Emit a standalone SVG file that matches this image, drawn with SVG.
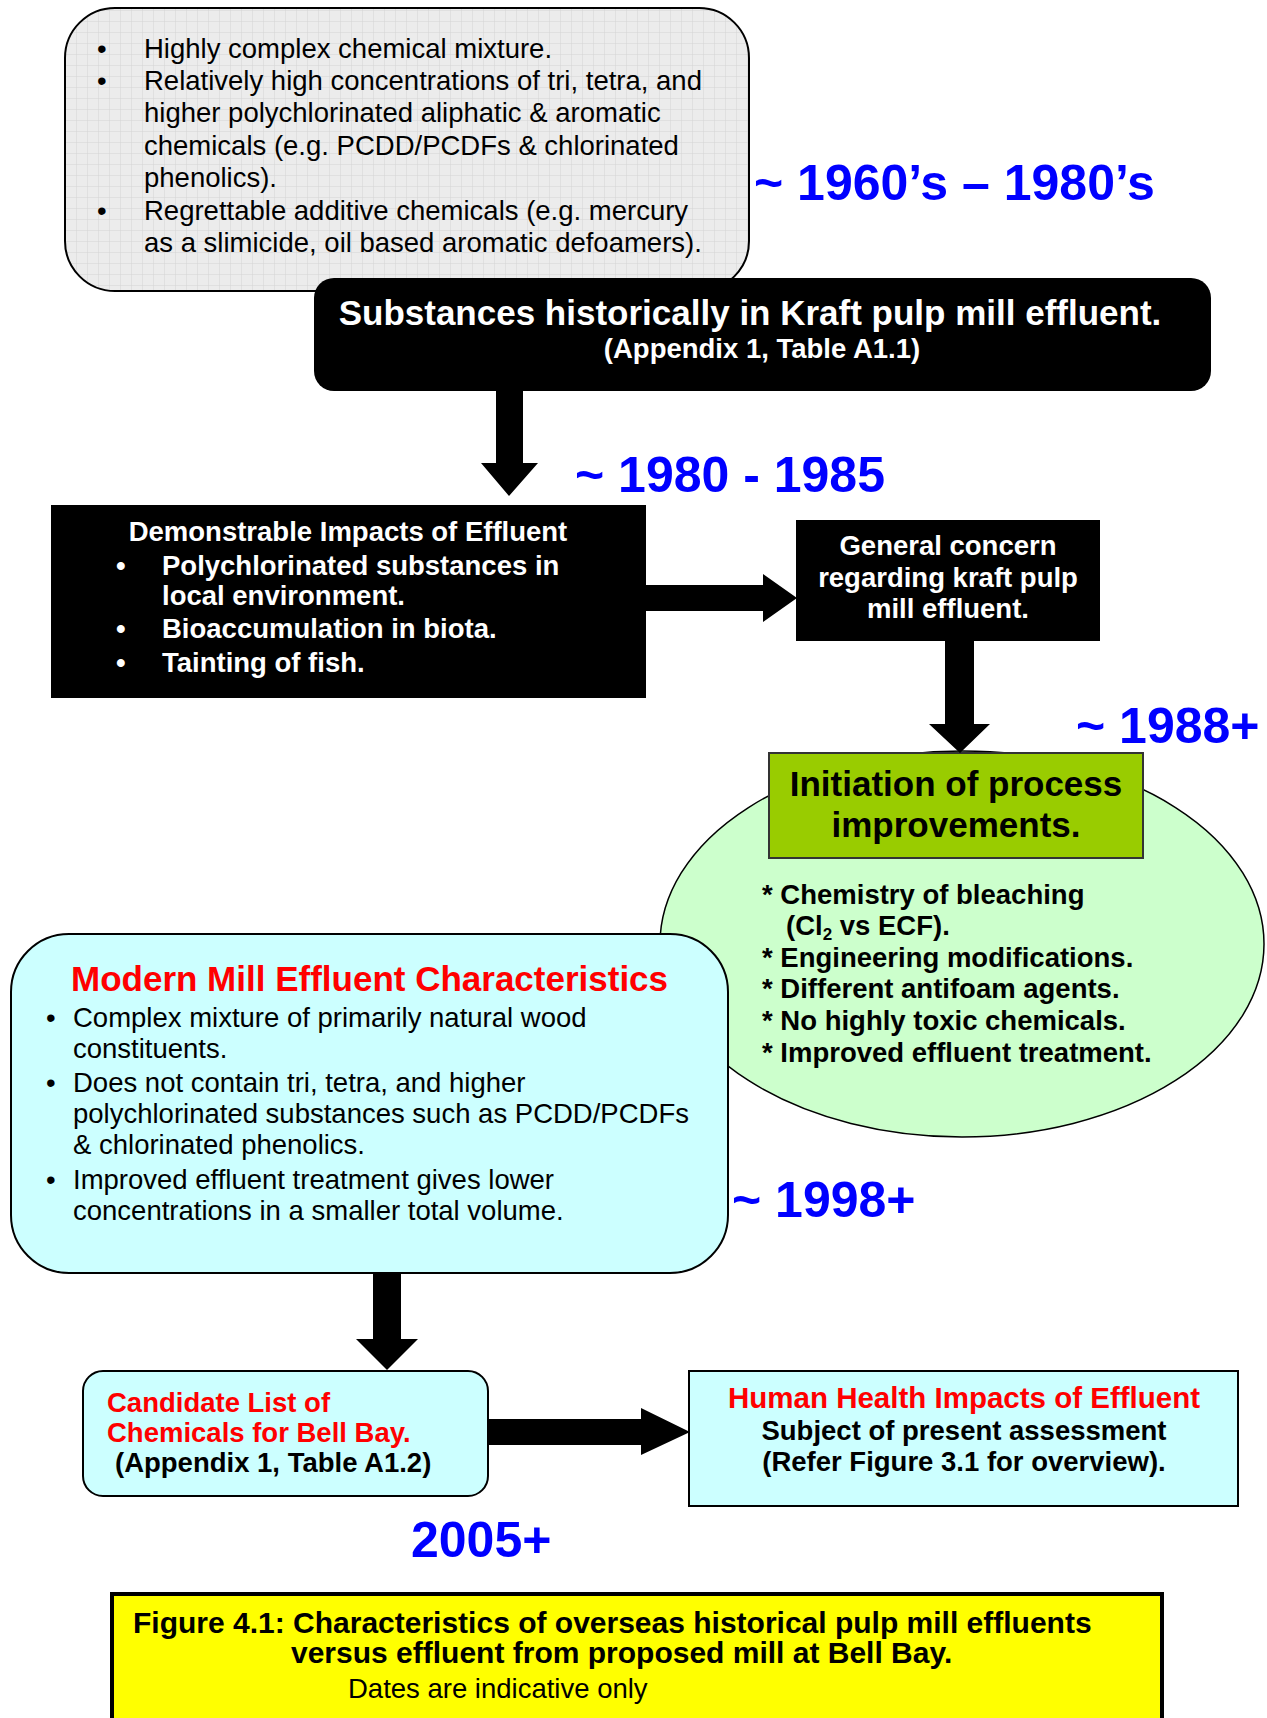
<svg xmlns="http://www.w3.org/2000/svg" width="1267" height="1718" viewBox="0 0 1267 1718">
<defs>
<pattern id="grid" width="11" height="11" patternUnits="userSpaceOnUse">
<rect width="11" height="11" fill="#ececec"/>
<path d="M11 0V11M0 11H11" stroke="#d4d4d4" stroke-width="1" fill="none"/>
</pattern>
<style>
text{font-family:"Liberation Sans",Arial,sans-serif}
.reg{font-size:27.5px;fill:#000}
.b{font-weight:bold}
.w{fill:#fff}
.blue{fill:#0000ff;font-weight:bold;font-size:50px}
.red{fill:#ff0000;font-weight:bold}
.arrow{fill:#000}
</style>
</defs>
<rect width="1267" height="1718" fill="#fff"/>

<g id="node-history">
<rect x="65" y="8" width="684" height="283" rx="50" fill="url(#grid)" stroke="#000" stroke-width="2"/>
<g class="reg">
<text x="97" y="58">•</text>
<text x="144" y="58">Highly complex chemical mixture.</text>
<text x="97" y="90">•</text>
<text x="144" y="90">Relatively high concentrations of tri, tetra, and</text>
<text x="144" y="122">higher polychlorinated aliphatic &amp; aromatic</text>
<text x="144" y="155">chemicals (e.g. PCDD/PCDFs &amp; chlorinated</text>
<text x="144" y="187">phenolics).</text>
<text x="97" y="220">•</text>
<text x="144" y="220">Regrettable additive chemicals (e.g. mercury</text>
<text x="144" y="252">as a slimicide, oil based aromatic defoamers).</text>
</g>
</g>

<g id="label-1960">
<text class="blue" x="754" y="200">~ 1960’s – 1980’s</text>
</g>

<g id="node-substances">
<rect x="314" y="278" width="897" height="113" rx="20" fill="#000"/>
<text class="b w" x="750" y="325" font-size="35" text-anchor="middle">Substances historically in Kraft pulp mill effluent.</text>
<text class="b w" x="762" y="358" font-size="27.5" text-anchor="middle">(Appendix 1, Table A1.1)</text>
</g>

<g id="label-1980">
<text class="blue" x="575" y="492">~ 1980 - 1985</text>
</g>

<g id="node-impacts">
<rect x="51" y="505" width="595" height="193" fill="#000"/>
<g class="b w" font-size="27.5">
<text x="348" y="541" text-anchor="middle">Demonstrable Impacts of Effluent</text>
<text x="116" y="575">•</text>
<text x="162" y="575">Polychlorinated substances in</text>
<text x="162" y="605">local environment.</text>
<text x="116" y="638">•</text>
<text x="162" y="638">Bioaccumulation in biota.</text>
<text x="116" y="672">•</text>
<text x="162" y="672">Tainting of fish.</text>
</g>
</g>

<g id="node-concern">
<rect x="796" y="520" width="304" height="121" fill="#000"/>
<g class="b w" font-size="27.5" text-anchor="middle">
<text x="948" y="555">General concern</text>
<text x="948" y="587">regarding kraft pulp</text>
<text x="948" y="618">mill effluent.</text>
</g>
</g>

<g id="label-1988">
<text class="blue" x="1076" y="743">~ 1988+</text>
</g>

<g id="node-improvements">
<ellipse cx="962" cy="944" rx="302" ry="193" fill="#ccffcc" stroke="#000" stroke-width="1.5"/>
<rect x="769" y="753" width="374" height="105" fill="#99cc00" stroke="#333" stroke-width="2"/>
<g class="b" font-size="35" text-anchor="middle">
<text x="956" y="796">Initiation of process</text>
<text x="956" y="837">improvements.</text>
</g>
<g class="b" font-size="27.5">
<text x="762" y="904">* Chemistry of bleaching</text>
<text x="786" y="935">(Cl<tspan font-size="17" dy="5">2</tspan><tspan dy="-5"> vs ECF).</tspan></text>
<text x="762" y="967">* Engineering modifications.</text>
<text x="762" y="998">* Different antifoam agents.</text>
<text x="762" y="1030">* No highly toxic chemicals.</text>
<text x="762" y="1062">* Improved effluent treatment.</text>
</g>
</g>

<g id="node-modern">
<rect x="11" y="934" width="717" height="339" rx="58" fill="#ccffff" stroke="#000" stroke-width="2"/>
<text class="red" x="71" y="991" font-size="35">Modern Mill Effluent Characteristics</text>
<g class="reg" font-size="26.5">
<text x="46" y="1027">•</text>
<text x="73" y="1027">Complex mixture of primarily natural wood</text>
<text x="73" y="1058">constituents.</text>
<text x="46" y="1092">•</text>
<text x="73" y="1092">Does not contain tri, tetra, and higher</text>
<text x="73" y="1123">polychlorinated substances such as PCDD/PCDFs</text>
<text x="73" y="1154">&amp; chlorinated phenolics.</text>
<text x="46" y="1189">•</text>
<text x="73" y="1189">Improved effluent treatment gives lower</text>
<text x="73" y="1220">concentrations in a smaller total volume.</text>
</g>
</g>

<g id="label-1998">
<text class="blue" x="732" y="1217">~ 1998+</text>
</g>

<g id="node-candidate">
<rect x="83" y="1371" width="405" height="125" rx="20" fill="#ccffff" stroke="#000" stroke-width="2"/>
<g font-size="27.5" class="b">
<text class="red" x="107" y="1412">Candidate List of</text>
<text class="red" x="107" y="1442">Chemicals for Bell Bay.</text>
<text x="115" y="1472">(Appendix 1, Table A1.2)</text>
</g>
</g>

<g id="node-health">
<rect x="689" y="1371" width="549" height="135" fill="#ccffff" stroke="#000" stroke-width="2"/>
<g class="b" text-anchor="middle">
<text class="red" x="964" y="1408" font-size="29.5">Human Health Impacts of Effluent</text>
<text x="964" y="1440" font-size="27.5">Subject of present assessment</text>
<text x="964" y="1471" font-size="27.5">(Refer Figure 3.1 for overview).</text>
</g>
</g>

<g id="label-2005">
<text class="blue" x="411" y="1557">2005+</text>
</g>

<g id="caption">
<rect x="112" y="1594" width="1050" height="130" fill="#ffff00" stroke="#000" stroke-width="4"/>
<text class="b" x="133" y="1633" font-size="30">Figure 4.1: Characteristics of overseas historical pulp mill effluents</text>
<text class="b" x="291" y="1663" font-size="30">versus effluent from proposed mill at Bell Bay.</text>
<text x="348" y="1698" font-size="27.5">Dates are indicative only</text>
</g>

<g id="connectors" class="arrow">
<polygon points="496,391 523,391 523,463 538,463 509,496 481,463 496,463"/>
<polygon points="646,585 763,585 763,574 797,598 763,622 763,611 646,611"/>
<polygon points="945,641 974,641 974,724 990,724 960,753 929,724 945,724"/>
<polygon points="373,1273 401,1273 401,1339 418,1339 387,1370 356,1339 373,1339"/>
<polygon points="489,1419 641,1419 641,1408 690,1432 641,1455 641,1445 489,1445"/>
</g>
</svg>
